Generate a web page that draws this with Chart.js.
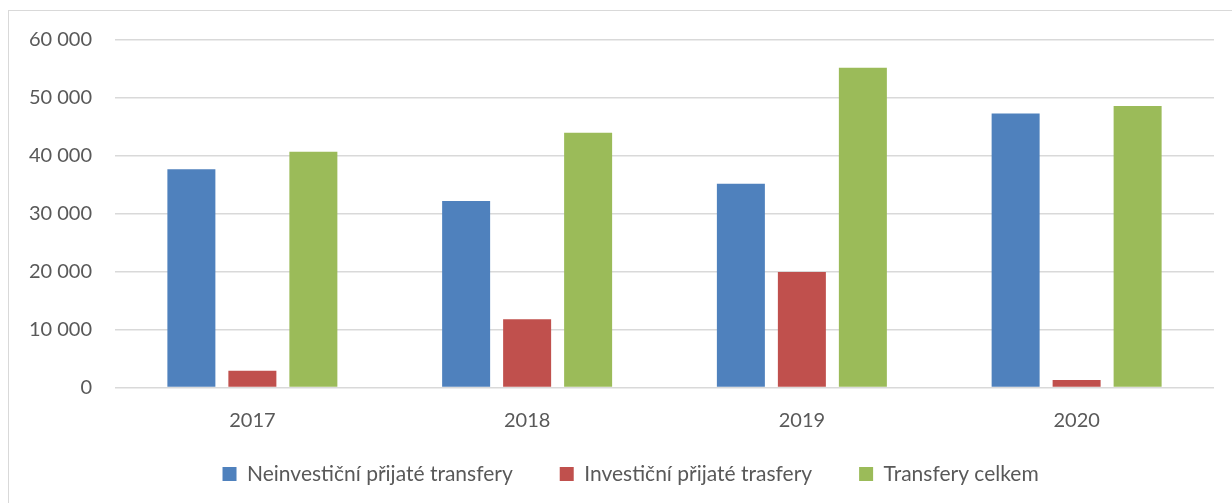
<!DOCTYPE html>
<html>
<head>
<meta charset="utf-8">
<script src="https://cdn.jsdelivr.net/npm/chart.js@4/dist/chart.umd.min.js"></script>
<style>
html,body{margin:0;padding:0;background:#fff;}
#wrap{position:relative;width:1232px;height:503px;}
</style>
</head>
<body>
<div id="wrap"><canvas id="c" width="1232" height="503"></canvas></div>
<script>
const categories = ['2017', '2018', '2019', '2020'];
const neinvesticni = [37700, 32200, 35200, 47300];
const investicni = [2900, 11800, 19950, 1300];
const celkem = [40700, 44000, 55200, 48600];
const seriesNames = ['Neinvestiční přijaté transfery', 'Investiční přijaté trasfery', 'Transfery celkem'];
const yTicks = [0, 10000, 20000, 30000, 40000, 50000, 60000];

const FONT = 'Lato, "Open Sans", sans-serif';
const TEXT = '#595959';
const LEGEND_PAD = 47;
const LEGEND_FONT = 21;
const LEGEND_CENTER_X = 630.6;
const LEGEND_CENTER_Y = 474;

const borderPlugin = {
  id: 'outerBorder',
  beforeDraw(chart) {
    const ctx = chart.ctx;
    ctx.save();
    ctx.fillStyle = '#fff';
    ctx.fillRect(0, 0, chart.width, chart.height);
    ctx.strokeStyle = '#d9d9d9';
    ctx.lineWidth = 1;
    ctx.strokeRect(8.5, 10.5, chart.width + 20, chart.height + 20);
    ctx.restore();
  }
};

const legendPlacePlugin = {
  id: 'legendPlace',
  afterInit(chart) {
    const lg = chart.legend;
    if (!lg || lg._patched) return;
    const orig = lg.fit;
    lg.fit = function () { orig.call(this); this.height = 51.5; };
    lg._patched = true;
  },
  afterLayout(chart) {
    const lg = chart.legend;
    if (!lg) return;
    const w = 1200;
    lg.left = LEGEND_CENTER_X - w / 2;
    lg.right = LEGEND_CENTER_X + w / 2;
    lg.width = w;
    lg.top = LEGEND_CENTER_Y - LEGEND_PAD - LEGEND_FONT / 2;
    lg.bottom = chart.height;
    lg.height = lg.bottom - lg.top;
  }
};

const fmt = v => String(v).replace(/\B(?=(\d{3})+(?!\d))/g, ' ');

new Chart(document.getElementById('c'), {
  type: 'bar',
  data: {
    labels: categories,
    datasets: [
      { label: seriesNames[0], data: neinvesticni, backgroundColor: '#4F81BD' },
      { label: seriesNames[1], data: investicni, backgroundColor: '#C0504D' },
      { label: seriesNames[2], data: celkem, backgroundColor: '#9BBB59' }
    ]
  },
  options: {
    responsive: false,
    animation: false,
    devicePixelRatio: 1,
    layout: { padding: { left: 0, right: 18, top: 40, bottom: 0 } },
    datasets: { bar: { categoryPercentage: 0.666, barPercentage: 0.787 } },
    plugins: {
      legend: {
        position: 'bottom',
        labels: {
          font: { family: FONT, size: LEGEND_FONT },
          color: TEXT,
          boxWidth: 14,
          boxHeight: 14,
          padding: LEGEND_PAD
        }
      },
      tooltip: { enabled: false }
    },
    scales: {
      x: {
        grid: { display: false, drawTicks: false },
        border: { display: false },
        ticks: { font: { family: FONT, size: 20 }, color: TEXT, padding: 21 },
        afterFit(scale) { scale.height = 64; }
      },
      y: {
        min: 0,
        max: 60000,
        afterBuildTicks(scale) { scale.ticks = yTicks.map(v => ({ value: v })); },
        grid: { color: '#d9d9d9', lineWidth: 1.5, drawTicks: false },
        border: { display: false },
        ticks: {
          font: { family: FONT, size: 20 },
          color: TEXT,
          padding: 23,
          callback: v => fmt(v)
        },
        afterFit(scale) { scale.width = 115; }
      }
    }
  },
  plugins: [borderPlugin, legendPlacePlugin]
});
</script>
</body>
</html>
